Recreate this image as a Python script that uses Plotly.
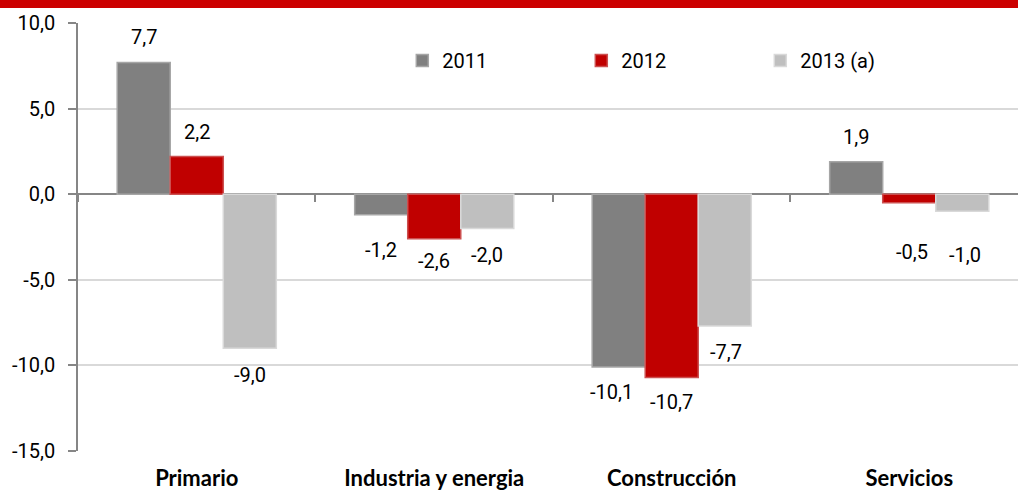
import plotly.graph_objects as go

categories = ["Primario", "Industria y energia", "Construcción", "Servicios"]
series_names = ["2011", "2012", "2013 (a)"]
values_2011 = [7.7, -1.2, -10.1, 1.9]
values_2012 = [2.2, -2.6, -10.7, -0.5]
values_2013 = [-9.0, -2.0, -7.7, -1.0]
y_ticks = [-15, -10, -5, 0, 5, 10]
y_tick_labels = ["-15,0", "-10,0", "-5,0", "0,0", "5,0", "10,0"]

series_values = [values_2011, values_2012, values_2013]
fills = ["#808080", "#c00000", "#bfbfbf"]
edges = ["#a6a6a6", "#cc5050", "#d9d9d9"]

# style: label nudges (dx, dy px) per series/category
nudges = [
    [(0, 0), (0, 10), (-7, 0), (0, 0)],
    [(0, 0), (0, -3), (0, 0), (3, 24)],
    [(0, 2), (0, 2), (1, 1), (3, 19)],
]

NUM = "Roboto, sans-serif"
BOLD = "Lato, Open Sans, sans-serif"

fig = go.Figure()
for name, vals, fc, ec in zip(series_names, series_values, fills, edges):
    fig.add_trace(go.Bar(
        x=categories, y=vals, name=name,
        marker=dict(color=fc, line=dict(color=ec, width=1.5)),
        hoverinfo="skip",
    ))

# invisible trace to carry boundary ticks on the zero line
fig.add_trace(go.Scatter(x=categories, y=values_2011, xaxis="x2", mode="markers",
                         marker=dict(opacity=0), showlegend=False, hoverinfo="skip"))

bar_px = 53
for i, vals in enumerate(series_values):
    for j, v in enumerate(vals):
        dx, dy = nudges[i][j]
        base = 25 if v >= 0 else -25
        shift = base + (-dy if v < 0 else dy)
        fig.add_annotation(
            x=categories[j], y=v, xref="x", yref="y",
            text=f"{v:.1f}".replace(".", ","), showarrow=False,
            xshift=(i - 1) * bar_px + dx, yshift=shift,
            font=dict(family=NUM, size=20, color="#000000"),
        )

# red banner at the top
fig.add_shape(type="rect", xref="paper", yref="paper", x0=-0.1, x1=1.01,
              y0=1.035, y1=1.06, fillcolor="#cc0000", line=dict(width=0), layer="above")

fig.update_layout(
    width=1018, height=493,
    margin=dict(l=78, r=0, t=23, b=42, autoexpand=False),
    paper_bgcolor="white", plot_bgcolor="white",
    separators=", ",
    barmode="group", bargap=0.33, bargroupgap=0,
    font=dict(family=NUM, size=20, color="#000000"),
    showlegend=True,
    legend=dict(orientation="h", x=0.345, xanchor="left", y=0.958, yanchor="top",
                entrywidth=134, entrywidthmode="pixels",
                font=dict(family=NUM, size=20, color="#000000"),
                bgcolor="rgba(0,0,0,0)", traceorder="normal"),
    xaxis=dict(type="category", categoryorder="array", categoryarray=categories,
               range=[-0.5, 3.458], showgrid=False, showline=False, ticks="",
               automargin=False, ticklabelstandoff=12,
               tickfont=dict(family=BOLD, size=22, color="#000000", weight="bold")),
    xaxis2=dict(type="category", categoryorder="array", categoryarray=categories,
                overlaying="x", anchor="free", position=0.6, matches="x",
                showticklabels=False, showgrid=False, showline=False,
                ticks="outside", tickson="boundaries", ticklen=7, automargin=False,
                tickcolor="#868686", tickwidth=1.5),
    yaxis=dict(range=[-15, 10], tickvals=y_ticks, ticktext=y_tick_labels,
               showgrid=True, gridcolor="#d9d9d9", gridwidth=1.5,
               zeroline=True, zerolinecolor="#868686", zerolinewidth=1.5,
               showline=True, linecolor="#868686", linewidth=1.5,
               ticks="outside", ticklen=8, tickcolor="#868686", tickwidth=1.5,
               automargin=False, ticklabelstandoff=9,
               tickfont=dict(family=NUM, size=20, color="#000000")),
)

fig.write_html("out.html", config={"displayModeBar": False},
               post_script="document.body.style.margin='0';document.body.style.overflow='hidden';")
